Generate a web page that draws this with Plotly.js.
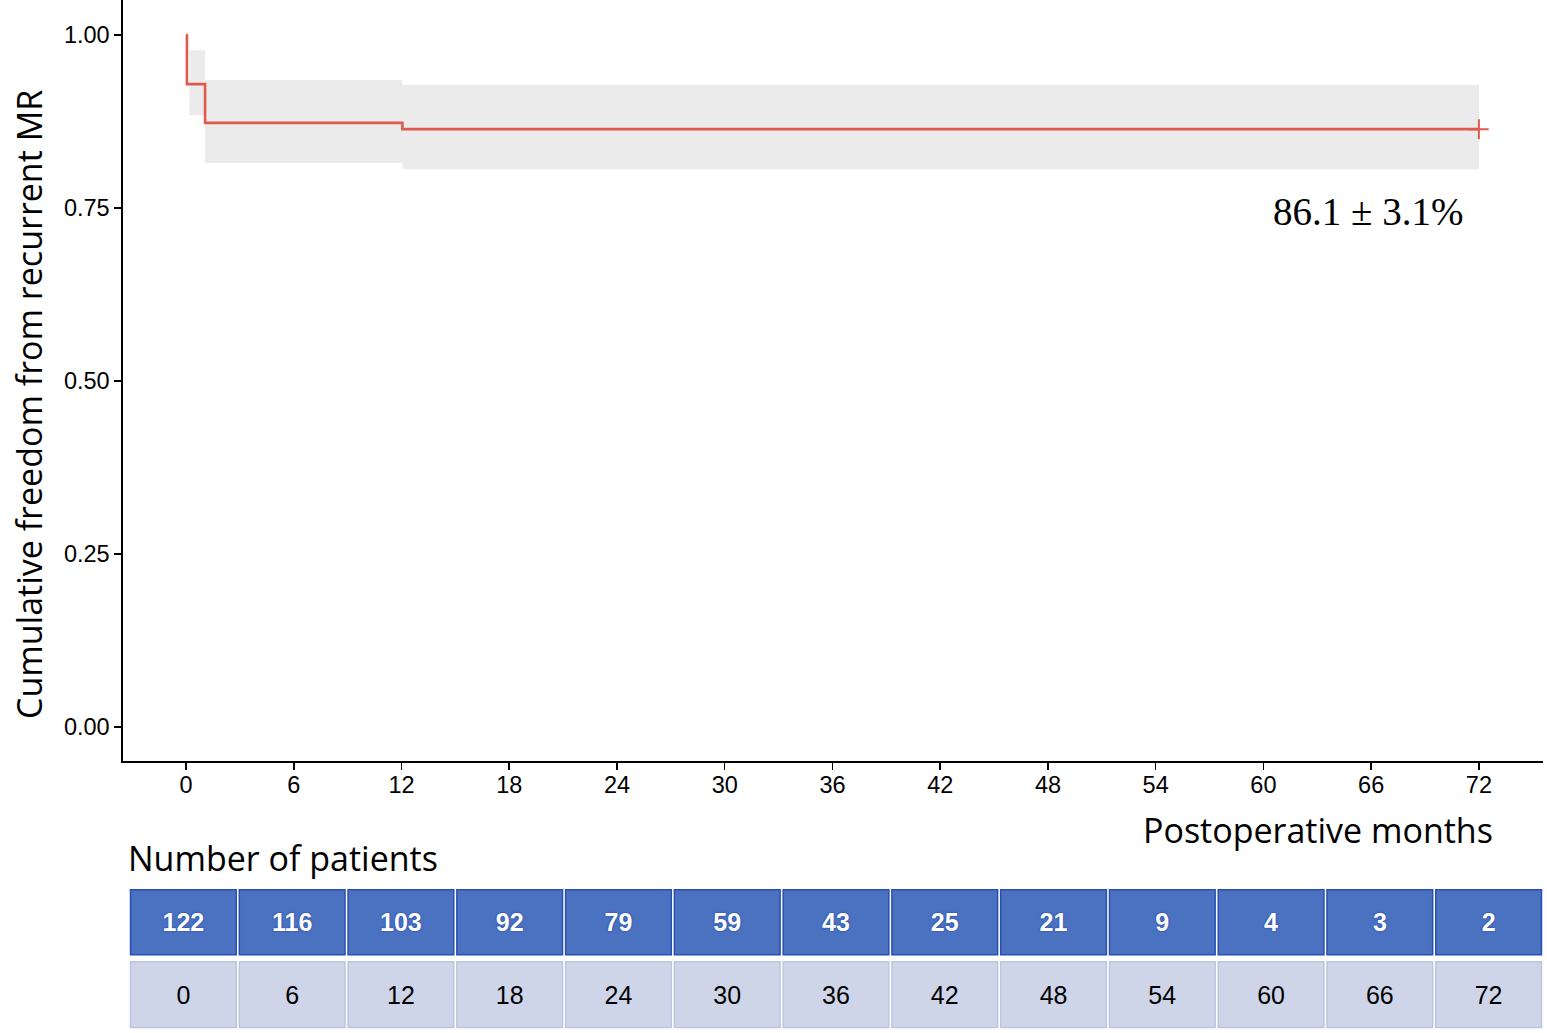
<!DOCTYPE html>
<html>
<head>
<meta charset="utf-8">
<script src="https://cdn.plot.ly/plotly-3.0.1.min.js"></script>
<style>
  html, body { margin: 0; padding: 0; background: #fff; }
  #myDiv { width: 1547px; height: 1033px; }
</style>
</head>
<body>
<div id="myDiv"></div>
<script>
// Kaplan-Meier step curve (months, survival)
var kmTime = [0, 0.05, 1.06, 12.05, 72];
var kmSurv = [1.0, 0.929, 0.873, 0.864, 0.864];

// confidence band steps
var ciTime = [0.2, 1.06, 12.05, 72];
var ciUpper = [0.978, 0.935, 0.928, 0.928];
var ciLower = [0.884, 0.815, 0.806, 0.806];

// censored point
var censorTime = [72];
var censorSurv = [0.864];

// number at risk table
var riskMonths = [0, 6, 12, 18, 24, 30, 36, 42, 48, 54, 60, 66, 72];
var riskCounts = [122, 116, 103, 92, 79, 59, 43, 25, 21, 9, 4, 3, 2];

var xTicks = [0, 6, 12, 18, 24, 30, 36, 42, 48, 54, 60, 66, 72];
var yTicks = [0, 0.25, 0.5, 0.75, 1.0];

var kmColor = "#e05a4b";
var colIdx = riskMonths.map(function(m, i) { return i; });

var data = [
  {
    x: ciTime, y: ciLower, type: "scatter", mode: "lines",
    line: { shape: "hv", width: 0, color: "rgba(0,0,0,0)" },
    hoverinfo: "skip", showlegend: false
  },
  {
    x: ciTime, y: ciUpper, type: "scatter", mode: "lines",
    line: { shape: "hv", width: 0, color: "rgba(0,0,0,0)" },
    fill: "tonexty", fillcolor: "#ebebeb",
    hoverinfo: "skip", showlegend: false
  },
  {
    x: kmTime, y: kmSurv, type: "scatter", mode: "lines",
    line: { shape: "hv", width: 2.6, color: kmColor },
    hoverinfo: "skip", showlegend: false
  },
  {
    x: censorTime, y: censorSurv, type: "scatter", mode: "markers",
    marker: { symbol: "cross-thin", size: 14, line: { width: 2, color: kmColor }, color: kmColor },
    hoverinfo: "skip", showlegend: false
  },
  // header row: counts
  {
    x: colIdx, y: riskCounts.map(function() { return 0.93; }),
    base: 1.06, type: "bar", width: 0.972,
    xaxis: "x2", yaxis: "y2",
    marker: { color: "#4a72c0", line: { color: "#2a4fb3", width: 1.5 } },
    text: riskCounts.map(String), textposition: "inside", insidetextanchor: "middle",
    textangle: 0, constraintext: "none",
    textfont: { family: "Liberation Sans, Arial, sans-serif", size: 25, color: "#ffffff", weight: "bold", shadow: "0px 0px 2px #1d3c9c" },
    hoverinfo: "skip", showlegend: false
  },
  // second row: months
  {
    x: colIdx, y: riskMonths.map(function() { return 0.94; }),
    base: 0.02, type: "bar", width: 0.972,
    xaxis: "x2", yaxis: "y2",
    marker: { color: "#cfd5e8", line: { color: "#bcc5e0", width: 1.5 } },
    text: riskMonths.map(String), textposition: "inside", insidetextanchor: "middle",
    textangle: 0, constraintext: "none",
    textfont: { family: "Liberation Sans, Arial, sans-serif", size: 25, color: "#000000" },
    hoverinfo: "skip", showlegend: false
  }
];

var tickFont = { family: "Liberation Sans, Arial, sans-serif", size: 23.5, color: "#000000" };
var labelFont = { family: "Open Sans, sans-serif", size: 34, color: "#000000" };

var layout = {
  width: 1547, height: 1033,
  margin: { l: 123, r: 4, t: 0, b: 0 },
  paper_bgcolor: "#ffffff", plot_bgcolor: "#ffffff",
  barmode: "overlay",
  xaxis: {
    domain: [0, 1], range: [-3.51, 75.57],
    tickvals: xTicks, ticks: "outside", ticklen: 7, tickwidth: 1.5, tickcolor: "#000",
    ticklabelstandoff: -5,
    showline: true, linecolor: "#000", linewidth: 1.6,
    showgrid: false, zeroline: false, tickfont: tickFont, anchor: "y"
  },
  yaxis: {
    domain: [(1033 - 761) / 1033, 1], range: [-0.049, 1.0506],
    tickvals: yTicks, tickformat: ".2f", ticks: "outside", ticklen: 7, tickwidth: 1.5, tickcolor: "#000",
    showline: true, linecolor: "#000", linewidth: 1.6,
    showgrid: false, zeroline: false, tickfont: tickFont, anchor: "x"
  },
  xaxis2: {
    domain: [(129 - 123) / 1420, 1], range: [-0.5, 12.5],
    visible: false, anchor: "y2", fixedrange: true
  },
  yaxis2: {
    domain: [(1033 - 1029) / 1033, (1033 - 889) / 1033], range: [0, 2],
    visible: false, anchor: "x2", fixedrange: true
  },
  bargap: 0,
  annotations: [
    {
      x: 65.8, y: 0.7457, xref: "x", yref: "y", showarrow: false,
      xanchor: "center", yanchor: "middle",
      text: "86.1 ± 3.1%",
      font: { family: "Liberation Serif, Times New Roman, serif", size: 39, color: "#000" }
    },
    {
      x: (29 - 123) / 1420, y: (1033 - 405) / 1033, xref: "paper", yref: "paper",
      xanchor: "center", yanchor: "middle",
      showarrow: false, textangle: -90, text: "Cumulative freedom from recurrent MR",
      font: labelFont
    },
    {
      x: (1495 - 123) / 1420, y: (1033 - 830) / 1033, xref: "paper", yref: "paper",
      xanchor: "right", yanchor: "middle", showarrow: false, text: "Postoperative months", font: labelFont
    },
    {
      x: (126 - 123) / 1420, y: (1033 - 858) / 1033, xref: "paper", yref: "paper",
      xanchor: "left", yanchor: "middle", showarrow: false, text: "Number of patients", font: labelFont
    }
  ]
};

Plotly.newPlot("myDiv", data, layout, { displayModeBar: false, staticPlot: true });
</script>
</body>
</html>
